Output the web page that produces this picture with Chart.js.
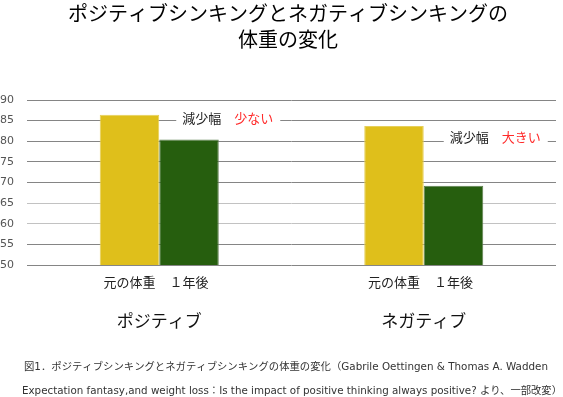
<!DOCTYPE html>
<html>
<head>
<meta charset="utf-8">
<script src="https://cdn.jsdelivr.net/npm/chart.js@4.4.1/dist/chart.umd.min.js"></script>
<style>
  html, body { margin: 0; padding: 0; background: #fff; overflow: hidden; }
  #wrap { width: 563px; height: 397px; position: relative; }
</style>
</head>
<body>
<div id="wrap"><canvas id="chart-weight" width="563" height="397"></canvas></div>
<script>
const groups = ["ポジティブ", "ネガティブ"];
const seriesNames = ["元の体重", "１年後"];
const beforeWeight = [86.4, 83.7];
const afterWeight = [80.4, 69.2];
const yTicks = [50, 55, 60, 65, 70, 75, 80, 85, 90];
const noteWords = ["少ない", "大きい"];
const noteLevel = [85.6, 81.0];

const titleLines = ["ポジティブシンキングとネガティブシンキングの", "体重の変化"];
const captionLines = [
  "図1．ポジティブシンキングとネガティブシンキングの体重の変化（Gabrile Oettingen & Thomas A. Wadden",
  "Expectation fantasy,and weight loss：Is the impact of positive thinking always positive? より、一部改変）",
];

const JP = '"Noto Sans CJK JP", "Noto Sans", sans-serif';
const CAPTION_FONT = '"DejaVu Sans", "Noto Sans CJK JP", sans-serif';

// draw a line of text squeezed/stretched into a given width
function fitText(ctx, text, x, y, width, size) {
  ctx.font = size + "px " + CAPTION_FONT;
  const w = ctx.measureText(text).width;
  ctx.save();
  ctx.translate(x, y);
  ctx.scale(width / w, 1);
  ctx.fillText(text, 0, 0);
  ctx.restore();
}

// title, caption, bar sub-labels and the 減少幅 notes
const extrasPlugin = {
  id: "extras",
  afterDraw(chart) {
    const ctx = chart.ctx;
    const y = chart.scales.y;
    ctx.save();

    ctx.fillStyle = "#000";
    ctx.textAlign = "center";
    ctx.textBaseline = "middle";
    ctx.font = "20px " + JP;
    ctx.fillText(titleLines[0], 288, 13);
    ctx.fillText(titleLines[1], 288, 39);

    // labels under each bar
    ctx.font = "13px " + JP;
    ctx.fillStyle = "#222";
    chart.data.datasets.forEach((ds, di) => {
      chart.getDatasetMeta(di).data.forEach((bar) => {
        ctx.fillText(seriesNames[di], bar.x, 282);
      });
    });

    // 減少幅 notes, white box over grid lines
    const metaBefore = chart.getDatasetMeta(0).data;
    metaBefore.forEach((bar, i) => {
      const ny = y.getPixelForValue(noteLevel[i]);
      const tx = bar.x + bar.width / 2 + 23 + i * 3;
      ctx.font = "13px " + JP;
      const w1 = ctx.measureText("減少幅").width;
      const w2 = ctx.measureText(noteWords[i]).width;
      const gap = 13;
      ctx.fillStyle = "#fff";
      ctx.fillRect(tx - 6, ny - 9, w1 + gap + w2 + 13, 18);
      ctx.textAlign = "left";
      ctx.fillStyle = "#222";
      ctx.fillText("減少幅", tx, ny);
      ctx.fillStyle = "#ff2a2a";
      ctx.fillText(noteWords[i], tx + w1 + gap, ny);
    });

    // caption
    ctx.fillStyle = "#333";
    ctx.textAlign = "left";
    fitText(ctx, captionLines[0], 24, 367, 524, 10);
    fitText(ctx, captionLines[1], 22, 391, 540, 10);

    ctx.restore();
  },
};

new Chart(document.getElementById("chart-weight"), {
  type: "bar",
  data: {
    labels: groups,
    datasets: [
      {
        label: seriesNames[0],
        data: beforeWeight,
        backgroundColor: "#dfbf1b",
        borderColor: "#e6cf5a",
        borderWidth: 1,
        categoryPercentage: 0.45,
        barPercentage: 1,
      },
      {
        label: seriesNames[1],
        data: afterWeight,
        backgroundColor: "#265e0e",
        borderColor: "#5d7f4f",
        borderWidth: 1,
        categoryPercentage: 0.45,
        barPercentage: 1,
      },
    ],
  },
  options: {
    responsive: false,
    animation: false,
    devicePixelRatio: 1,
    layout: { padding: { top: 100, right: 7, bottom: 62, left: 0 } },
    plugins: {
      legend: { display: false },
      tooltip: { enabled: false },
      title: { display: false },
    },
    scales: {
      x: {
        grid: { display: false, drawTicks: false },
        border: { display: false },
        ticks: {
          color: "#111",
          font: { size: 17, family: JP },
          padding: 45,
        },
        afterFit: (s) => { s.height = 70; },
      },
      y: {
        min: 50,
        max: 90,
        border: { display: false },
        grid: {
          drawTicks: false,
          lineWidth: 1,
          color: (c) => (c.tick && (c.tick.value === 60 || c.tick.value === 65) ? "#c2c2c2" : "#858585"),
        },
        afterBuildTicks: (s) => { s.ticks = yTicks.map((v) => ({ value: v })); },
        ticks: {
          color: "#555",
          font: { size: 11, family: "'DejaVu Sans', sans-serif" },
          padding: 13,
        },
        afterFit: (s) => { s.width = 27; },
      },
    },
  },
  plugins: [extrasPlugin],
});
</script>
</body>
</html>
